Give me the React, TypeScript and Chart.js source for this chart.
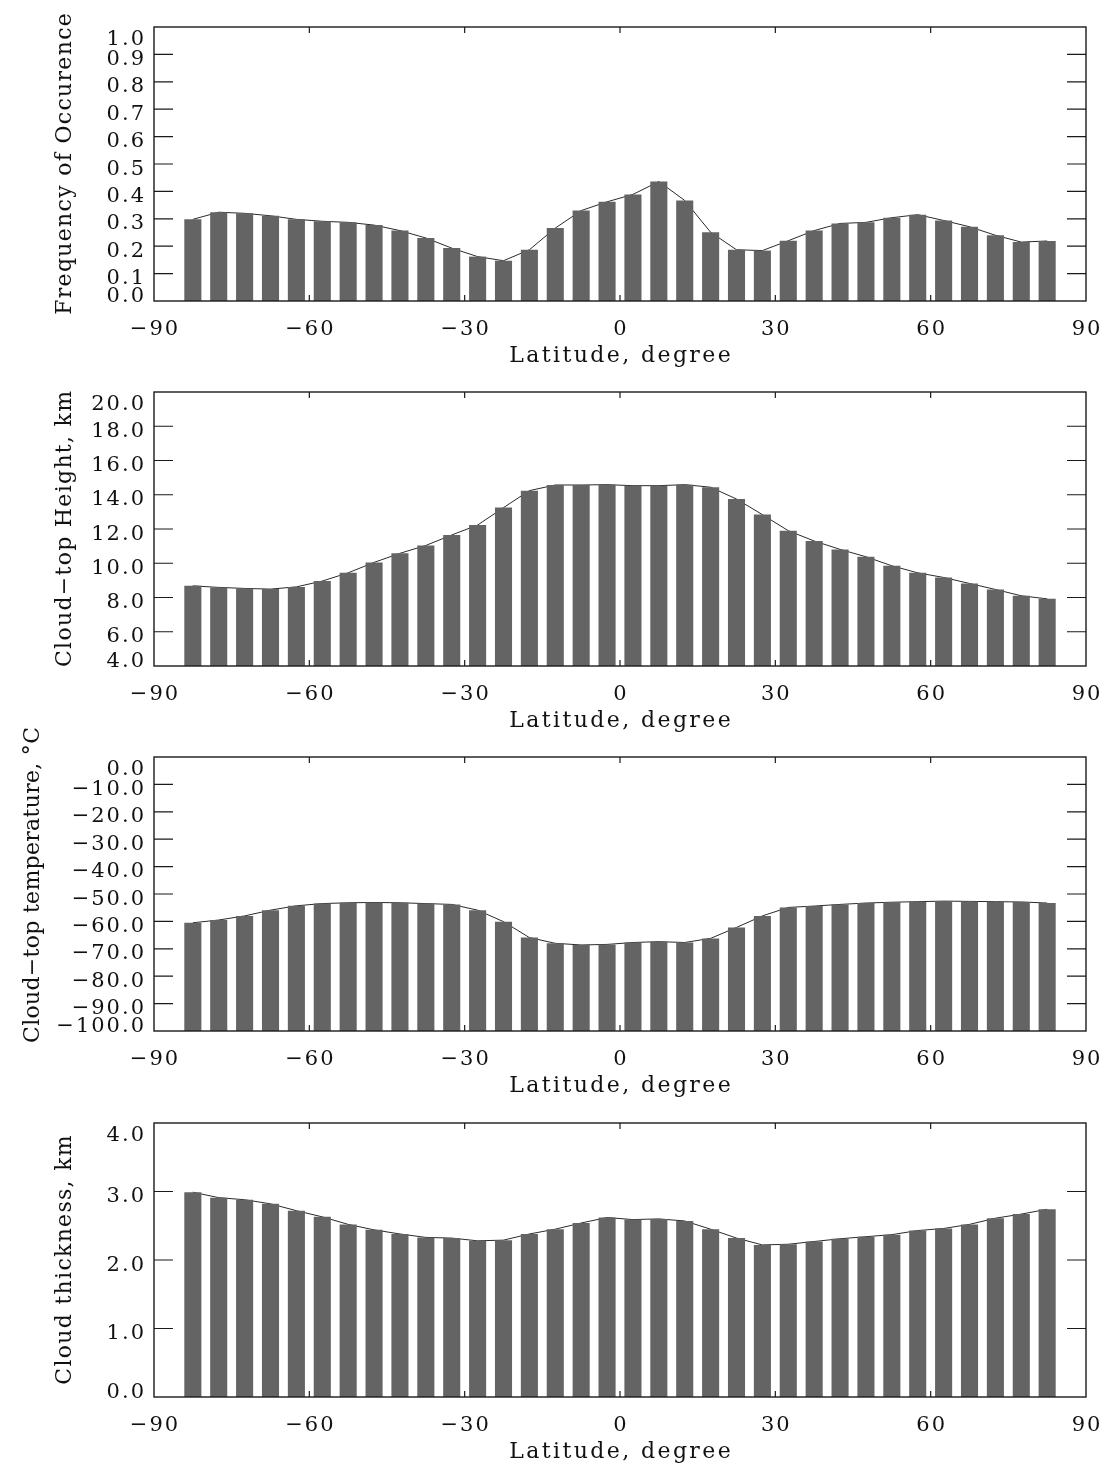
import React, { useEffect, useRef } from 'react';
import { Chart, registerables } from 'chart.js';

Chart.register(...registerables);

// ---------------- data ----------------
const latitudes = [
  -82.5, -77.5, -72.5, -67.5, -62.5, -57.5, -52.5, -47.5, -42.5, -37.5, -32.5, -27.5,
  -22.5, -17.5, -12.5, -7.5, -2.5, 2.5, 7.5, 12.5, 17.5, 22.5, 27.5, 32.5,
  37.5, 42.5, 47.5, 52.5, 57.5, 62.5, 67.5, 72.5, 77.5, 82.5,
];

const frequencyOfOccurence = [
  0.298, 0.324, 0.320, 0.311, 0.298, 0.291, 0.287, 0.277, 0.257, 0.230, 0.193, 0.162,
  0.147, 0.187, 0.266, 0.330, 0.362, 0.389, 0.436, 0.367, 0.251, 0.187, 0.184, 0.220,
  0.257, 0.283, 0.287, 0.304, 0.315, 0.294, 0.271, 0.240, 0.215, 0.219,
];

const cloudTopHeight = [
  8.68, 8.59, 8.53, 8.49, 8.62, 8.96, 9.44, 10.05, 10.58, 11.04, 11.65, 12.23,
  13.25, 14.24, 14.57, 14.57, 14.59, 14.53, 14.53, 14.59, 14.44, 13.75, 12.84, 11.90,
  11.30, 10.81, 10.38, 9.85, 9.44, 9.17, 8.82, 8.47, 8.10, 7.92,
];

const cloudTopTemperature = [
  -60.5, -59.5, -58.0, -55.9, -54.3, -53.5, -53.2, -53.1, -53.2, -53.5, -53.8, -55.9,
  -60.1, -65.9, -68.0, -68.6, -68.4, -67.7, -67.4, -67.7, -66.2, -62.2, -58.0, -54.9,
  -54.4, -53.8, -53.3, -53.0, -52.8, -52.6, -52.7, -52.8, -52.9, -53.3,
];

const cloudThickness = [
  2.99, 2.91, 2.88, 2.82, 2.72, 2.63, 2.52, 2.44, 2.38, 2.33, 2.32, 2.28,
  2.29, 2.38, 2.45, 2.54, 2.62, 2.59, 2.60, 2.57, 2.45, 2.32, 2.22, 2.23,
  2.27, 2.31, 2.34, 2.37, 2.43, 2.46, 2.52, 2.61, 2.67, 2.74,
];

const xTickValues = [-90, -60, -30, 0, 30, 60, 90];
const xTickLabels = ['\u221290', '\u221260', '\u221230', '0', '30', '60', '90'];
const xTitle = 'Latitude, degree';

const freqTicks = [0.0, 0.1, 0.2, 0.3, 0.4, 0.5, 0.6, 0.7, 0.8, 0.9, 1.0];
const heightTicks = [4, 6, 8, 10, 12, 14, 16, 18, 20];
const tempTicks = [0, -10, -20, -30, -40, -50, -60, -70, -80, -90, -100];
const thickTicks = [0, 1, 2, 3, 4];

const yTitles = [
  'Frequency of Occurence',
  'Cloud\u2212top Height, km',
  'Cloud\u2212top temperature, \u00B0C',
  'Cloud thickness, km',
];

// ---------------- styles ----------------
const BAR_COLOR = '#646464';
const LINE_COLOR = '#2a2a2a';
const AXIS_COLOR = '#1a1a1a';
const TEXT_COLOR = '#111111';
const FONT_FAMILY = '"DejaVu Serif", serif';
const TICK_FONT = 21;
const TICK_LS = 2.0;
const TITLE_FONT = 22;
const XTITLE_LS = 2.4;

const fmt = (v: number) => (v < 0 ? '\u2212' + Math.abs(v).toFixed(1) : v.toFixed(1));

function drawSpaced(
  ctx: CanvasRenderingContext2D,
  text: string,
  x: number,
  y: number,
  align: 'left' | 'center' | 'right',
  ls: number
) {
  const chars = Array.from(text);
  const widths = chars.map((c) => ctx.measureText(c).width);
  const total = widths.reduce((a, b) => a + b, 0) + ls * (chars.length - 1);
  let cx = align === 'left' ? x : align === 'center' ? x - total / 2 : x - total;
  ctx.textAlign = 'left';
  chars.forEach((c, i) => {
    ctx.fillText(c, cx, y);
    cx += widths[i] + ls;
  });
}

const idlAxesPlugin = {
  id: 'idlAxes',
  afterDatasetsDraw(chart: any, _args: any, opts: any) {
    const { ctx, chartArea } = chart;
    const { left, right, top, bottom } = chartArea;
    const xs = chart.scales.x;
    const ys = chart.scales.y;
    ctx.save();
    ctx.strokeStyle = AXIS_COLOR;
    ctx.lineWidth = 1.4;
    ctx.strokeRect(left, top, right - left, bottom - top);

    ctx.lineWidth = 1.2;
    ctx.beginPath();
    opts.xTicks.forEach((v: number) => {
      const px = xs.getPixelForValue(v);
      if (Math.abs(px - left) < 1 || Math.abs(px - right) < 1) return;
      ctx.moveTo(px, bottom);
      ctx.lineTo(px, bottom - 6);
      ctx.moveTo(px, top);
      ctx.lineTo(px, top + 6);
    });
    opts.yTicks.forEach((v: number) => {
      const py = ys.getPixelForValue(v);
      if (Math.abs(py - top) < 1 || Math.abs(py - bottom) < 1) return;
      ctx.moveTo(left, py);
      ctx.lineTo(left + 19, py);
      ctx.moveTo(right, py);
      ctx.lineTo(right - 19, py);
    });
    ctx.stroke();

    ctx.fillStyle = TEXT_COLOR;
    ctx.textBaseline = 'alphabetic';
    ctx.font = `${TICK_FONT}px ${FONT_FAMILY}`;
    opts.xTicks.forEach((v: number, i: number) => {
      const px = xs.getPixelForValue(v);
      drawSpaced(ctx, opts.xLabels[i], px, bottom + 34, 'center', TICK_LS);
    });
    opts.yTicks.forEach((v: number) => {
      const py = ys.getPixelForValue(v);
      const c = Math.min(Math.max(py + 3, top + 10), bottom - 7);
      drawSpaced(ctx, fmt(v), left - 10, c + 7.5, 'right', TICK_LS);
    });

    ctx.font = `${TITLE_FONT}px ${FONT_FAMILY}`;
    drawSpaced(ctx, opts.xTitle, (left + right) / 2, bottom + 61, 'center', XTITLE_LS);

    ctx.translate(opts.yTitleX, (top + bottom) / 2 + opts.yTitleShift);
    ctx.rotate(-Math.PI / 2);
    drawSpaced(ctx, opts.yTitle, 0, 0, 'center', opts.yTitleLs);
    ctx.restore();
  },
};

type PanelProps = {
  top: number;
  values: number[];
  yMin: number;
  yMax: number;
  yTicks: number[];
  yTitle: string;
  yTitleX: number;
  yTitleLs: number;
  yTitleShift: number;
};

const CANVAS_H = 440;
const PAD_TOP = 67; // plot top sits 67px below canvas top
const PLOT_H = 274;

function Panel({ top, values, yMin, yMax, yTicks, yTitle, yTitleX, yTitleLs, yTitleShift }: PanelProps) {
  const ref = useRef<HTMLCanvasElement | null>(null);
  useEffect(() => {
    if (!ref.current) return;
    const points = latitudes.map((x, i) => ({ x, y: values[i] }));
    const chart = new Chart(ref.current, {
      type: 'bar',
      data: {
        datasets: [
          {
            type: 'bar',
            data: points,
            backgroundColor: BAR_COLOR,
            borderWidth: 0,
            base: yMin,
            barPercentage: 0.66,
            categoryPercentage: 1,
            order: 1,
          } as any,
          {
            type: 'line',
            data: points,
            borderColor: LINE_COLOR,
            borderWidth: 1,
            pointRadius: 0,
            tension: 0,
            fill: false,
            order: 2,
          } as any,
        ],
      },
      options: {
        responsive: false,
        animation: false,
        devicePixelRatio: 1,
        layout: { padding: { left: 154, right: 18, top: PAD_TOP, bottom: CANVAS_H - PAD_TOP - PLOT_H } },
        scales: {
          x: { type: 'linear', min: -90, max: 90, display: false, offset: false },
          y: { type: 'linear', min: yMin, max: yMax, display: false },
        },
        plugins: {
          legend: { display: false },
          tooltip: { enabled: false },
          idlAxes: {
            xTicks: xTickValues,
            xLabels: xTickLabels,
            xTitle,
            yTicks,
            yTitle,
            yTitleX,
            yTitleLs,
            yTitleShift,
          },
        } as any,
      },
      plugins: [idlAxesPlugin as any],
    });
    return () => chart.destroy();
  }, [values, yMin, yMax, yTicks, yTitle, yTitleX, yTitleLs, yTitleShift]);
  return (
    <canvas
      ref={ref}
      width={1104}
      height={CANVAS_H}
      style={{ position: 'absolute', left: 0, top: top - PAD_TOP, width: 1104, height: CANVAS_H, display: 'block' }}
    />
  );
}

export default function App() {
  return (
    <div
      style={{
        position: 'absolute',
        left: 0,
        top: 0,
        width: 1104,
        height: 1467,
        background: '#ffffff',
        overflow: 'hidden',
      }}
    >
      <Panel top={27} values={frequencyOfOccurence} yMin={0} yMax={1} yTicks={freqTicks} yTitle={yTitles[0]} yTitleX={71} yTitleLs={1.3} yTitleShift={0} />
      <Panel top={392} values={cloudTopHeight} yMin={4} yMax={20} yTicks={heightTicks} yTitle={yTitles[1]} yTitleX={71} yTitleLs={1.3} yTitleShift={0} />
      <Panel top={757} values={cloudTopTemperature} yMin={-100} yMax={0} yTicks={tempTicks} yTitle={yTitles[2]} yTitleX={39} yTitleLs={0.3} yTitleShift={-9} />
      <Panel top={1123} values={cloudThickness} yMin={0} yMax={4} yTicks={thickTicks} yTitle={yTitles[3]} yTitleX={71} yTitleLs={1.3} yTitleShift={0} />
    </div>
  );
}
